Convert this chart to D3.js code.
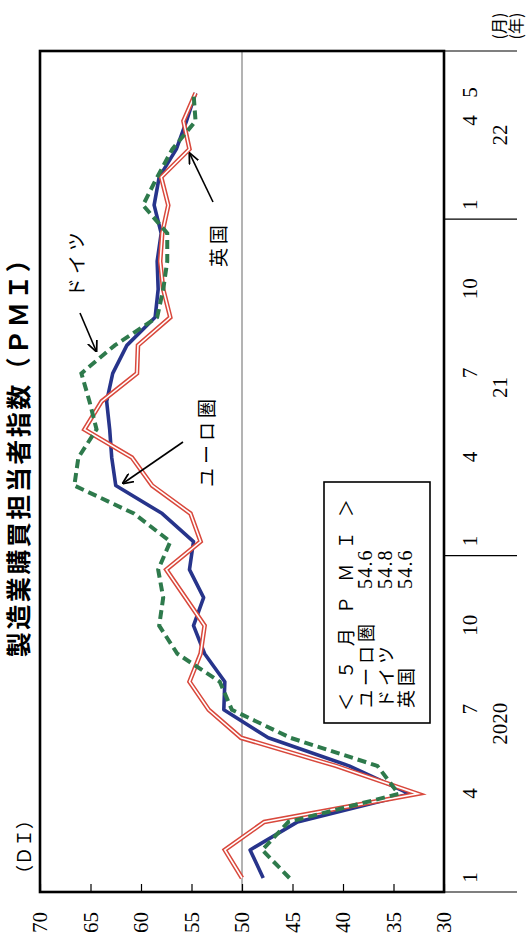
<!DOCTYPE html>
<html>
<head>
<meta charset="utf-8">
<script src="https://cdn.jsdelivr.net/npm/d3@7"></script>
<style>
  html, body { margin: 0; padding: 0; background: #fff; }
  svg { display: block; }
</style>
</head>
<body>
<svg id="chart" width="527" height="950"></svg>
<script>
// Manufacturing PMI, Jan 2020 – May 2022 (monthly)
const months = [
  "2020-01","2020-02","2020-03","2020-04","2020-05","2020-06","2020-07","2020-08","2020-09","2020-10","2020-11","2020-12",
  "2021-01","2021-02","2021-03","2021-04","2021-05","2021-06","2021-07","2021-08","2021-09","2021-10","2021-11","2021-12",
  "2022-01","2022-02","2022-03","2022-04","2022-05"
];
const euroArea = [47.9,49.2,44.5,33.4,39.4,47.4,51.8,51.7,53.7,54.8,53.8,55.2,
                  54.8,57.9,62.5,62.9,63.1,63.4,62.8,61.4,58.6,58.3,58.4,58.0,
                  58.7,58.2,56.5,55.5,54.6];
const germany  = [45.3,48.0,45.4,34.5,36.6,45.2,51.0,52.2,56.4,58.2,57.8,58.3,
                  57.1,60.7,66.6,66.2,64.4,65.1,65.9,62.6,58.4,57.8,57.4,57.4,
                  59.8,58.4,56.9,54.6,54.8];
const uk       = [50.0,51.7,47.8,32.6,40.7,50.1,53.3,55.2,54.1,53.7,55.6,57.5,
                  54.1,55.1,58.9,60.9,65.6,63.9,60.4,60.3,57.1,57.8,58.1,57.9,
                  57.3,58.0,55.2,55.8,54.6];

const seriesNames = ["ユーロ圏", "ドイツ", "英国"];
const valueTicks = [30, 35, 40, 45, 50, 55, 60, 65, 70];
const monthTickIndex  = [0, 3, 6, 9, 12, 15, 18, 21, 24, 27, 28];
const monthTickLabels = ["1","4","7","10","1","4","7","10","1","4","5"];
const yearLabels = ["2020", "21", "22"];
const yearStartIndex = [0, 12, 24];

// The chart is laid out in a landscape frame (950 x 527) and turned a quarter turn
// counter-clockwise onto the portrait page.
const W = 950, H = 527;
const svg = d3.select("#chart");
const g = svg.append("g").attr("transform", `translate(0,${W}) rotate(-90)`);

const plot = { left: 58, right: 899, top: 40, bottom: 444 };
const nSlots = months.length + 1;               // one empty slot after the last month
const x = d3.scaleLinear().domain([-0.5, nSlots - 0.5]).range([plot.left, plot.right]);
const y = d3.scaleLinear().domain([30, 70]).range([plot.bottom, plot.top]);

const serif = "'Liberation Serif', 'DejaVu Serif', serif";
const jp = "'Noto Sans CJK JP', 'Noto Sans', sans-serif";

// Title and unit
g.append("text")
  .attr("x", 499).attr("y", 17)
  .attr("text-anchor", "middle").attr("dominant-baseline", "central")
  .attr("font-family", jp).attr("font-weight", 700).attr("font-size", 25)
  .attr("letter-spacing", 2.5)
  .text("製造業購買担当者指数（ＰＭＩ）");

g.append("text")
  .attr("x", 103).attr("y", 23)
  .attr("text-anchor", "middle").attr("dominant-baseline", "central")
  .attr("font-family", jp).attr("font-size", 18)
  .text("（ＤＩ）");

// 50 reference line
g.append("line")
  .attr("x1", plot.left).attr("x2", plot.right)
  .attr("y1", y(50)).attr("y2", y(50))
  .attr("stroke", "#8a8a8a").attr("stroke-width", 1.3);

// Value axis (ticks point into the plot)
const yAxis = g.append("g")
  .attr("transform", `translate(${plot.left},0)`)
  .call(d3.axisLeft(y).tickValues(valueTicks).tickSizeInner(-8).tickSizeOuter(0).tickPadding(20));
yAxis.select(".domain").remove();
yAxis.selectAll(".tick line").attr("stroke", "#000").attr("stroke-width", 1.2);
yAxis.selectAll(".tick text")
  .attr("font-family", serif).attr("font-size", 21).attr("fill", "#000");

// Month labels below the plot
const xAxis = g.append("g")
  .attr("transform", `translate(0,${plot.bottom})`)
  .call(d3.axisBottom(x).tickValues(monthTickIndex)
          .tickFormat((d, i) => monthTickLabels[i]).tickSize(0));
xAxis.select(".domain").remove();
xAxis.selectAll(".tick text")
  .attr("y", 26).attr("dy", "0.35em")
  .attr("font-family", serif).attr("font-size", 21).attr("fill", "#000");

// Year separators and year labels
const yearBounds = yearStartIndex.map(i => i - 0.5).concat([nSlots - 0.5]);
g.selectAll("line.year-sep").data(yearBounds).join("line")
  .attr("class", "year-sep")
  .attr("x1", d => x(d)).attr("x2", d => x(d))
  .attr("y1", plot.bottom).attr("y2", 517)
  .attr("stroke", "#000").attr("stroke-width", 1.2);

g.selectAll("text.year").data(yearLabels).join("text")
  .attr("class", "year")
  .attr("x", (d, i) => x((yearBounds[i] + yearBounds[i + 1]) / 2))
  .attr("y", 500)
  .attr("text-anchor", "middle").attr("dominant-baseline", "central")
  .attr("font-family", serif).attr("font-size", 21)
  .text(d => d);

g.append("text")
  .attr("x", 924).attr("y", 498)
  .attr("text-anchor", "middle").attr("dominant-baseline", "central")
  .attr("font-family", jp).attr("font-size", 16)
  .text("(月)");
g.append("text")
  .attr("x", 924).attr("y", 515)
  .attr("text-anchor", "middle").attr("dominant-baseline", "central")
  .attr("font-family", jp).attr("font-size", 16)
  .text("(年)");

// Series lines
const line = d3.line().x((d, i) => x(i)).y(d => y(d));

g.append("path").datum(euroArea)
  .attr("d", line).attr("fill", "none")
  .attr("stroke", "#27348b").attr("stroke-width", 3.6)
  .attr("stroke-linejoin", "round");

g.append("path").datum(uk)
  .attr("d", line).attr("fill", "none")
  .attr("stroke", "#d9483c").attr("stroke-width", 4.6)
  .attr("stroke-linejoin", "miter");
g.append("path").datum(uk)
  .attr("d", line).attr("fill", "none")
  .attr("stroke", "#fff").attr("stroke-width", 1.6)
  .attr("stroke-linejoin", "miter");

g.append("path").datum(germany)
  .attr("d", line).attr("fill", "none")
  .attr("stroke", "#2e7a4c").attr("stroke-width", 4)
  .attr("stroke-dasharray", "9,5");

// Plot frame
g.append("rect")
  .attr("x", plot.left).attr("y", plot.top)
  .attr("width", plot.right - plot.left).attr("height", plot.bottom - plot.top)
  .attr("fill", "none").attr("stroke", "#000").attr("stroke-width", 2.6);

// Latest-month box
const box = { x: 227, y: 324, w: 241, h: 106 };
g.append("rect")
  .attr("x", box.x).attr("y", box.y).attr("width", box.w).attr("height", box.h)
  .attr("fill", "#fff").attr("stroke", "#000").attr("stroke-width", 1.6);

g.append("text")
  .attr("x", 239).attr("y", 345)
  .attr("dominant-baseline", "central")
  .attr("font-family", jp).attr("font-size", 18)
  .attr("textLength", 212).attr("lengthAdjust", "spacing")
  .text("＜５月ＰＭＩ＞");

const latest = [euroArea, germany, uk].map(s => s[s.length - 1]);
const rowY = [365, 385, 405];
seriesNames.forEach((name, i) => {
  g.append("text")
    .attr("x", 242).attr("y", rowY[i])
    .attr("dominant-baseline", "central")
    .attr("font-family", jp).attr("font-size", 18)
    .attr("letter-spacing", 4)
    .text(name);
  g.append("text")
    .attr("x", 361).attr("y", rowY[i])
    .attr("dominant-baseline", "central")
    .attr("font-family", serif).attr("font-size", 20)
    .attr("letter-spacing", 1.2)
    .text(latest[i].toFixed(1));
});

// Callouts
const defs = svg.append("defs");
defs.append("marker")
  .attr("id", "arrow").attr("viewBox", "0 0 10 10")
  .attr("refX", 9.5).attr("refY", 5)
  .attr("markerWidth", 11).attr("markerHeight", 11)
  .attr("markerUnits", "userSpaceOnUse").attr("orient", "auto")
  .append("path").attr("d", "M0,0.5 L10,5 L0,9.5")
  .attr("fill", "none").attr("stroke", "#000").attr("stroke-width", 1.6);

const callouts = [
  { label: "ユーロ圏", tx: 463, ty: 205, series: euroArea, idx: 14, from: [508, 183], off: [2, 7] },
  { label: "ドイツ",   tx: 653, ty: 75,  series: germany,  idx: 18.78, from: [637, 80], off: [0, -11] },
  { label: "英国",     tx: 683, ty: 217, series: uk,       idx: 26, from: [748, 213], off: [-4, 0] }
];
callouts.forEach(c => {
  const i0 = Math.floor(c.idx), t = c.idx - i0;
  const v = t === 0 ? c.series[i0] : c.series[i0] * (1 - t) + c.series[i0 + 1] * t;
  const hx = x(c.idx) + c.off[0], hy = y(v) + c.off[1];
  g.append("line")
    .attr("x1", c.from[0]).attr("y1", c.from[1])
    .attr("x2", hx).attr("y2", hy)
    .attr("stroke", "#000").attr("stroke-width", 1.6)
    .attr("marker-end", "url(#arrow)");
  g.append("text")
    .attr("x", c.tx).attr("y", c.ty)
    .attr("dominant-baseline", "central")
    .attr("font-family", jp).attr("font-size", 19)
    .attr("letter-spacing", 4)
    .text(c.label);
});
</script>
</body>
</html>
